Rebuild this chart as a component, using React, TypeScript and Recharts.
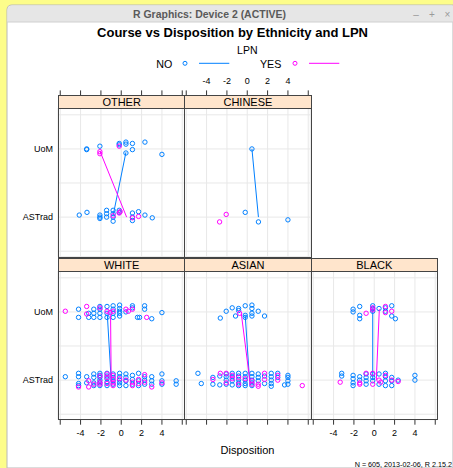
import React from 'react';
import { ScatterChart, Scatter, XAxis, YAxis, CartesianGrid } from 'recharts';

// lattice-style xyplot: Course (jittered) vs Disposition, panels by ethnicity, groups by LPN

const groups = ['NO', 'YES'];
const groupColors = ['#0080ff', '#ff00ff'];
const courseLevels: Record<number, string> = { 1: 'ASTrad', 2: 'UoM' };
const xTicks = [-6, -4, -2, 0, 2, 4, 6];
const yGrid = [0.5, 1, 1.5, 2, 2.5];

type Pt = [number, number];

// [disposition, course + jitter]
const otherNo: Pt[] = [
  [-3.4, 2.0], [-3.4, 1.99], [-2.1, 2.04], [-0.2, 2.08], [-0.2, 2.06], [0.46, 2.1], [0.46, 2.07],
  [1.1, 2.08], [1.1, 1.99], [0.46, 1.94], [2.33, 2.1], [4.0, 1.92],
  [-4.13, 1.03], [-3.37, 1.07], [-2.1, 1.03], [-2.1, 1.0], [-2.1, 0.98], [-1.44, 1.1], [-1.44, 1.05],
  [-1.44, 1.0], [-0.8, 1.1], [-0.8, 1.05], [-0.8, 1.0], [-0.8, 0.94], [-0.2, 1.1], [-0.2, 1.07],
  [1.1, 1.06], [1.1, 1.0], [1.1, 0.95], [1.7, 1.08], [2.33, 1.03], [3.05, 0.99],
];
const otherYes: Pt[] = [
  [-2.1, 1.96], [-2.1, 1.93], [-0.2, 2.04], [-0.8, 1.02], [-0.2, 1.06], [-0.1, 1.08], [1.1, 0.99], [1.7, 1.01],
];
const otherNoLine: Pt[] = [[0.46, 1.95], [-0.79, 1.03]];
const otherYesLine: Pt[] = [[-2.1, 1.97], [0.53, 1.0]];

const chineseNo: Pt[] = [[0.46, 2.0], [-0.2, 1.07], [1.1, 0.93], [4.0, 0.96]];
const chineseYes: Pt[] = [[-2.07, 1.04], [-2.72, 0.93]];
const chineseNoLine: Pt[] = [[0.46, 2.0], [1.1, 1.0]];
const chineseYesLine: Pt[] = [];

const whiteNo: Pt[] = [
  [-4.2, 2.04], [-4.2, 1.92], [-3.2, 1.98], [-3.2, 1.92], [-2.7, 2.04], [-2.7, 1.92], [-2.7, 1.98],
  [-2.1, 2.08], [-2.1, 2.04], [-2.1, 1.98], [-2.1, 1.92], [-1.4, 2.08], [-1.4, 1.98], [-1.4, 1.92],
  [-0.8, 2.09], [-0.8, 2.04], [-0.8, 1.98], [-0.8, 1.92], [-0.16, 2.1], [-0.16, 2.05], [-0.16, 2.01],
  [-0.16, 1.98], [-0.16, 1.94], [0.46, 2.0], [1.1, 2.09], [1.1, 2.06], [1.6, 1.92], [1.8, 1.92],
  [2.3, 2.09], [2.3, 2.04], [3.0, 1.9], [4.0, 1.99],
  [-5.5, 1.05], [-4.2, 1.1], [-4.2, 1.05], [-4.2, 0.95], [-4.2, 0.92], [-3.4, 1.05], [-3.4, 0.96],
  [-2.7, 1.09], [-2.7, 1.04], [-2.7, 0.96], [-2.7, 0.92], [-2.1, 1.1], [-2.1, 1.07], [-2.1, 1.04],
  [-2.1, 1.0], [-2.1, 0.96], [-2.1, 0.92], [-1.4, 1.1], [-1.4, 1.06], [-1.4, 1.02], [-1.4, 0.97],
  [-1.4, 0.92], [-0.8, 1.09], [-0.8, 1.04], [-0.8, 0.99], [-0.8, 0.94], [-0.16, 1.1], [-0.16, 1.05],
  [-0.16, 1.0], [-0.16, 0.96], [-0.16, 0.92], [0.46, 1.09], [0.46, 1.04], [0.46, 0.99], [0.46, 0.92],
  [1.1, 1.07], [1.1, 1.01], [1.1, 0.94], [1.7, 1.1], [1.7, 0.99], [1.7, 0.92], [2.3, 1.05], [2.3, 1.0],
  [2.3, 0.94], [3.0, 1.05], [3.0, 0.99], [3.0, 0.94], [4.0, 1.09], [4.0, 0.99], [4.0, 0.94],
  [5.4, 0.99], [5.4, 0.94],
];
const whiteYes: Pt[] = [
  [-5.5, 2.01], [-3.4, 2.08], [-3.4, 1.97], [-2.1, 2.06], [-1.4, 2.01], [-0.8, 2.01], [-1.1, 1.99],
  [0.7, 2.01], [0.46, 2.04], [1.1, 2.04], [2.5, 1.92],
  [-4.2, 0.9], [-3.2, 0.99], [-3.2, 0.9], [-2.7, 0.94], [-2.1, 1.06], [-2.1, 0.97], [-2.1, 0.94],
  [-1.4, 1.09], [-1.4, 1.04], [-1.4, 0.95], [-0.8, 1.07], [-0.8, 1.01], [-0.8, 0.96], [-0.8, 0.92],
  [-0.16, 1.02], [0.46, 1.0], [1.1, 0.97], [1.1, 0.92], [1.7, 1.01], [1.7, 0.95], [2.3, 1.08],
  [2.3, 0.97], [3.0, 0.9], [4.0, 0.96],
];
const whiteNoLine: Pt[] = [[-1.37, 1.96], [-0.98, 0.97]];
const whiteYesLine: Pt[] = [[-1.05, 1.95], [-0.99, 0.98]];

const asianNo: Pt[] = [
  [-2.65, 1.91], [-2.07, 2.01], [-1.48, 2.06], [-0.85, 2.05], [-0.85, 2.02], [-1.15, 1.94],
  [-0.2, 2.09], [-0.2, 1.95], [-0.2, 1.92], [0.46, 2.1], [0.46, 2.05], [0.46, 1.98], [0.46, 1.94],
  [1.08, 2.01], [1.7, 1.94],
  [-4.85, 1.1], [-4.52, 0.95], [-3.38, 1.04], [-3.38, 0.94], [-2.7, 1.06], [-2.7, 0.93],
  [-2.07, 1.09], [-2.07, 1.05], [-2.07, 1.0], [-2.07, 0.94], [-1.48, 1.1], [-1.48, 1.05],
  [-1.48, 0.99], [-1.48, 0.93], [-0.85, 1.1], [-0.85, 1.06], [-0.85, 1.01], [-0.85, 0.96],
  [-0.85, 0.92], [-0.2, 1.1], [-0.2, 1.05], [-0.2, 1.0], [-0.2, 0.95], [-0.2, 0.92], [0.46, 1.1],
  [0.46, 1.05], [0.46, 1.0], [0.46, 0.96], [0.46, 0.92], [1.08, 1.09], [1.08, 1.04], [1.08, 0.99],
  [1.7, 1.06], [1.7, 0.95], [2.36, 1.1], [2.36, 1.05], [2.36, 1.0], [2.36, 0.95], [2.36, 0.91],
  [3.0, 1.1], [3.0, 1.04], [3.67, 0.93], [4.0, 1.07], [4.0, 1.04], [4.0, 0.99], [4.0, 0.94],
];
const asianYes: Pt[] = [
  [-0.75, 1.98],
  [-3.38, 1.01], [-2.65, 1.1], [-2.07, 1.1], [-2.07, 0.96], [-1.48, 1.07], [-1.48, 1.02],
  [-0.85, 1.04], [-0.85, 0.94], [-0.2, 1.02], [0.46, 0.99], [0.46, 0.94], [1.08, 0.94], [1.08, 0.91],
  [1.7, 1.1], [1.7, 1.01], [3.0, 1.07], [3.0, 1.0], [5.41, 0.92],
];
const asianNoLine: Pt[] = [[-0.2, 1.95], [0.23, 0.99]];
const asianYesLine: Pt[] = [[-0.59, 1.98], [0.3, 0.94]];

const blackNo: Pt[] = [
  [-2.08, 2.04], [-2.08, 2.0], [-1.43, 2.08], [-1.43, 1.95], [-1.43, 1.9], [-0.15, 2.09], [-0.15, 2.05],
  [-0.15, 2.01], [0.47, 2.05], [1.1, 2.06], [1.1, 2.01], [1.72, 2.09], [1.72, 1.94], [2.08, 1.9],
  [-3.2, 1.1], [-3.2, 1.06], [-2.08, 1.07], [-2.08, 1.02], [-2.08, 0.96], [-2.08, 0.92], [-1.43, 1.05],
  [-1.43, 1.0], [-0.8, 1.09], [-0.8, 1.04], [-0.8, 0.99], [-0.8, 0.94], [-0.15, 1.09], [-0.15, 1.04],
  [-0.15, 0.99], [0.47, 1.09], [0.47, 0.94], [1.1, 1.1], [1.1, 1.05], [1.1, 0.99], [1.1, 0.92],
  [1.72, 1.04], [1.72, 0.99], [1.72, 0.92], [2.35, 1.0], [4.0, 1.07], [4.0, 1.0],
];
const blackYes: Pt[] = [
  [-0.8, 1.98], [-0.15, 2.06], [-0.15, 2.03], [1.1, 2.08], [1.1, 1.99], [1.72, 2.01],
  [-3.35, 0.97], [-1.43, 0.96], [-1.43, 0.94], [-0.8, 1.1], [-0.15, 1.1], [-0.15, 0.94], [0.47, 1.0],
  [0.64, 0.97], [1.1, 1.07], [1.72, 1.0], [2.35, 0.98],
];
const blackNoLine: Pt[] = [[-0.15, 2.04], [-0.15, 1.0]];
const blackYesLine: Pt[] = [[0.5, 2.04], [0.2, 1.0]];

const panels = [
  { name: 'OTHER', col: 0, row: 0, pts: [otherNo, otherYes], lines: [otherNoLine, otherYesLine], yLabels: true, axis: 'top', axisLabels: false },
  { name: 'CHINESE', col: 1, row: 0, pts: [chineseNo, chineseYes], lines: [chineseNoLine, chineseYesLine], yLabels: false, axis: 'top', axisLabels: true },
  { name: 'WHITE', col: 0, row: 1, pts: [whiteNo, whiteYes], lines: [whiteNoLine, whiteYesLine], yLabels: true, axis: 'bottom', axisLabels: true },
  { name: 'ASIAN', col: 1, row: 1, pts: [asianNo, asianYes], lines: [asianNoLine, asianYesLine], yLabels: false, axis: 'bottom', axisLabels: false },
  { name: 'BLACK', col: 2, row: 1, pts: [blackNo, blackYes], lines: [blackNoLine, blackYesLine], yLabels: false, axis: 'bottom', axisLabels: true },
];

const FONT = '"Liberation Sans", Arial, Helvetica, sans-serif';
const PX0 = 58;
const PW = 126.3;
const PH = 148.7;
const ROW_TOP = [108.3, 270.7];
const STRIP_H = 13;
const AX_H = 42;
const Y_W = 58;

const toObj = (a: Pt[]) => a.map(([x, y]) => ({ x, y }));

const Panel = ({ p }: { p: (typeof panels)[number] }) => {
  const bodyLeft = PX0 + p.col * PW;
  const bodyTop = ROW_TOP[p.row];
  const yw = p.yLabels ? Y_W : 0;
  const isTop = p.axis === 'top';
  const chartLeft = bodyLeft - yw;
  const chartTop = isTop ? bodyTop - AX_H : bodyTop;
  return (
    <>
      <div style={{ position: 'absolute', left: chartLeft, top: chartTop }}>
        <ScatterChart width={PW + yw} height={PH + AX_H} margin={{ top: 0, right: 0, bottom: 0, left: 0 }}>
          <CartesianGrid stroke="#e8e8e8" />
          <XAxis
            type="number"
            dataKey="x"
            orientation={isTop ? 'top' : 'bottom'}
            height={AX_H}
            domain={[-6.22, 6.2]}
            allowDataOverflow
            ticks={xTicks}
            interval={0}
            axisLine={false}
            tickSize={isTop ? 17.6 : 5}
            tickMargin={isTop ? 6 : 5}
            tickLine={{ stroke: '#333' }}
            tick={{ fontSize: 9, fill: '#000', fontFamily: FONT }}
            tickFormatter={(v: number) => (p.axisLabels && Math.abs(v) < 6 ? String(v) : '')}
          />
          <YAxis
            type="number"
            dataKey="y"
            width={yw}
            hide={!p.yLabels}
            domain={[0.42, 2.6]}
            allowDataOverflow
            ticks={yGrid}
            interval={0}
            axisLine={false}
            tickLine={false}
            tickSize={3}
            tickMargin={2}
            tick={{ fontSize: 9, fill: '#000', fontFamily: FONT }}
            tickFormatter={(v: number) => courseLevels[v] ?? ''}
          />
          {groups.map((g, i) => [
            <Scatter
              key={g + '-pts'}
              data={toObj(p.pts[i])}
              isAnimationActive={false}
              shape={(s: any) => <circle cx={s.cx} cy={s.cy} r={2.2} fill="none" stroke={groupColors[i]} strokeWidth={1} />}
            />,
            <Scatter
              key={g + '-line'}
              data={toObj(p.lines[i])}
              isAnimationActive={false}
              line={{ stroke: groupColors[i], strokeWidth: 1 }}
              shape={() => <g />}
            />,
          ])}
        </ScatterChart>
      </div>
      <div
        style={{
          position: 'absolute', left: bodyLeft, top: bodyTop, width: PW + 1, height: PH + 1,
          border: '1px solid #444', boxSizing: 'border-box', pointerEvents: 'none',
        }}
      />
      <div
        style={{
          position: 'absolute', left: bodyLeft, top: bodyTop - STRIP_H, width: PW + 1, height: STRIP_H + 1,
          border: '1px solid #444', boxSizing: 'border-box', background: '#ffe5cc',
          fontFamily: FONT, fontSize: 11, lineHeight: `${STRIP_H - 1}px`, textAlign: 'center', color: '#000',
        }}
      >
        {p.name}
      </div>
    </>
  );
};

export default function App() {
  return (
    <div style={{ position: 'absolute', left: 0, top: 0, width: 453, height: 468, overflow: 'hidden', background: '#fff' }}>
      {/* window chrome */}
      <svg width={453} height={468} style={{ position: 'absolute', left: 0, top: 0 }}>
        <rect x={0} y={0} width={453} height={468} fill="#fdfd8a" />
        <path d="M7,468 L7,10 Q7,5 12,5 L453,5 L453,468 Z" fill="#fff" stroke="#b8b8b8" strokeWidth={1} />
        <path d="M7.5,22 L7.5,10 Q7.5,5.5 12,5.5 L453,5.5 L453,22 Z" fill="#e6e6e6" />
        <line x1={7} y1={22} x2={453} y2={22} stroke="#d0d0d0" />
        <text x={209.5} y={18} textAnchor="middle" fontFamily={FONT} fontWeight="bold" fontSize={10} fill="#5a5a5a" textLength={153} lengthAdjust="spacingAndGlyphs">
          R Graphics: Device 2 (ACTIVE)
        </text>
        <text x={416} y={18} textAnchor="middle" fontFamily={FONT} fontSize={10} fill="#9a9a9a">–</text>
        <text x={432} y={18} textAnchor="middle" fontFamily={FONT} fontSize={10} fill="#9a9a9a">+</text>
        <text x={447.5} y={18} textAnchor="middle" fontFamily={FONT} fontSize={10} fill="#9a9a9a">×</text>
      </svg>

      {panels.map((p) => (
        <Panel key={p.name} p={p} />
      ))}

      <svg width={453} height={468} style={{ position: 'absolute', left: 0, top: 0, pointerEvents: 'none' }} fontFamily={FONT}>
        <text x={232.5} y={37.3} textAnchor="middle" fontWeight="bold" fontSize={13} fill="#000">
          Course vs Disposition by Ethnicity and LPN
        </text>
        <text x={247.3} y={54.2} textAnchor="middle" fontSize={10.5} fill="#000">LPN</text>
        {groups.map((g, i) => (
          <g key={g}>
            <text x={172.3 + 109 * i} y={67.7} textAnchor="end" fontSize={10.7} fill="#000">{g}</text>
            <circle cx={185 + 110 * i} cy={63.3} r={2} fill="none" stroke={groupColors[i]} />
            <line x1={199 + 110 * i} x2={229.3 + 110 * i} y1={63.3} y2={63.3} stroke={groupColors[i]} />
          </g>
        ))}
        <text x={247.5} y={453.7} textAnchor="middle" fontSize={11} fill="#000">Disposition</text>
        <text x={452} y={466.5} textAnchor="end" fontSize={7.2} fill="#000">N = 605, 2013-02-06, R 2.15.2</text>
      </svg>
    </div>
  );
}
